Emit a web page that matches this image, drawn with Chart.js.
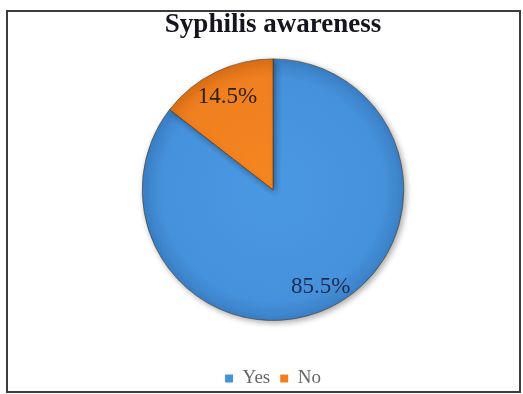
<!DOCTYPE html>
<html>
<head>
<meta charset="utf-8">
<script src="https://cdn.jsdelivr.net/npm/chart.js@4/dist/chart.umd.min.js"></script>
<style>
    html, body { margin: 0; padding: 0; background: #ffffff; }
    #wrap { position: relative; width: 523px; height: 394px; }
</style>
</head>
<body>
<div id="wrap"><canvas id="awarenessChart" width="523" height="394"></canvas></div>
<script>
const categories = ['Yes', 'No'];
const percentages = [85.5, 14.5];
const sliceColors = ['#4691DB', '#F07F1F'];
const labelColors = ['#1C2A4F', '#2E2010'];
const labelDistance = [0.83, 0.79];

const serif = '"Liberation Serif", "Times New Roman", serif';

// Thin dark frame around the whole figure
const framePlugin = {
    id: 'frame',
    afterDraw(chart) {
        const ctx = chart.ctx;
        ctx.save();
        ctx.strokeStyle = '#3C3C3C';
        ctx.lineWidth = 2;
        ctx.strokeRect(7, 11, 513, 381);
        ctx.restore();
    }
};

// Soft drop shadow under the pie
const shadowPlugin = {
    id: 'pieShadow',
    beforeDatasetsDraw(chart) {
        const ctx = chart.ctx;
        ctx.save();
        ctx.shadowColor = 'rgba(0,0,0,0.35)';
        ctx.shadowBlur = 6;
        ctx.shadowOffsetX = 2;
        ctx.shadowOffsetY = 2;
    },
    afterDatasetsDraw(chart) {
        chart.ctx.restore();
    }
};

// Percent labels placed inside each slice
const sliceLabels = {
    id: 'sliceLabels',
    afterDatasetsDraw(chart) {
        const ctx = chart.ctx;
        const meta = chart.getDatasetMeta(0);
        ctx.save();
        ctx.font = '23px ' + serif;
        ctx.textAlign = 'center';
        ctx.textBaseline = 'middle';
        meta.data.forEach((arc, i) => {
            const p = arc.getProps(['x', 'y', 'startAngle', 'endAngle', 'outerRadius'], true);
            const mid = (p.startAngle + p.endAngle) / 2;
            const d = p.outerRadius * labelDistance[i];
            ctx.fillStyle = labelColors[i];
            ctx.fillText(percentages[i].toFixed(1) + '%', p.x + Math.cos(mid) * d, p.y + Math.sin(mid) * d);
        });
        ctx.restore();
    }
};

function sliceFill(context) {
    const chart = context.chart;
    const area = chart.chartArea;
    if (!area) return sliceColors[context.dataIndex];
    const cx = (area.left + area.right) / 2;
    const cy = (area.top + area.bottom) / 2;
    const r = Math.min(area.right - area.left, area.bottom - area.top) / 2;
    const g = chart.ctx.createRadialGradient(cx, cy, 0, cx, cy, r);
    if (context.dataIndex === 0) {
        g.addColorStop(0, '#4B98E2');
        g.addColorStop(0.85, '#4691DB');
        g.addColorStop(1, '#3A80C6');
    } else {
        g.addColorStop(0, '#F5861F');
        g.addColorStop(0.85, '#F07F1F');
        g.addColorStop(1, '#DC6F16');
    }
    return g;
}

new Chart(document.getElementById('awarenessChart').getContext('2d'), {
    type: 'pie',
    data: {
        labels: categories,
        datasets: [{
            data: percentages,
            backgroundColor: sliceFill,
            borderColor: 'rgba(70,50,30,0.55)',
            borderWidth: 1
        }]
    },
    options: {
        responsive: false,
        animation: false,
        layout: {
            padding: { left: 23, right: 0, top: 0, bottom: -4 }
        },
        plugins: {
            tooltip: { enabled: false },
            title: {
                display: true,
                text: 'Syphilis awareness',
                color: '#15151F',
                font: { family: serif, size: 27, weight: 'bold' },
                padding: { top: 9, bottom: 17 }
            },
            legend: {
                position: 'bottom',
                // empty legend title only adds spacing above the items
                title: {
                    display: true,
                    text: '',
                    font: { size: 10 },
                    padding: { top: 26, bottom: 0 }
                },
                labels: {
                    color: '#000000',
                    font: { family: serif, size: 19 },
                    boxWidth: 8,
                    boxHeight: 8,
                    padding: 10,
                    generateLabels(chart) {
                        return categories.map((c, i) => ({
                            text: c,
                            fillStyle: sliceColors[i],
                            strokeStyle: sliceColors[i],
                            lineWidth: 0,
                            index: i
                        }));
                    }
                }
            }
        }
    },
    plugins: [shadowPlugin, sliceLabels, framePlugin]
});
</script>
</body>
</html>
